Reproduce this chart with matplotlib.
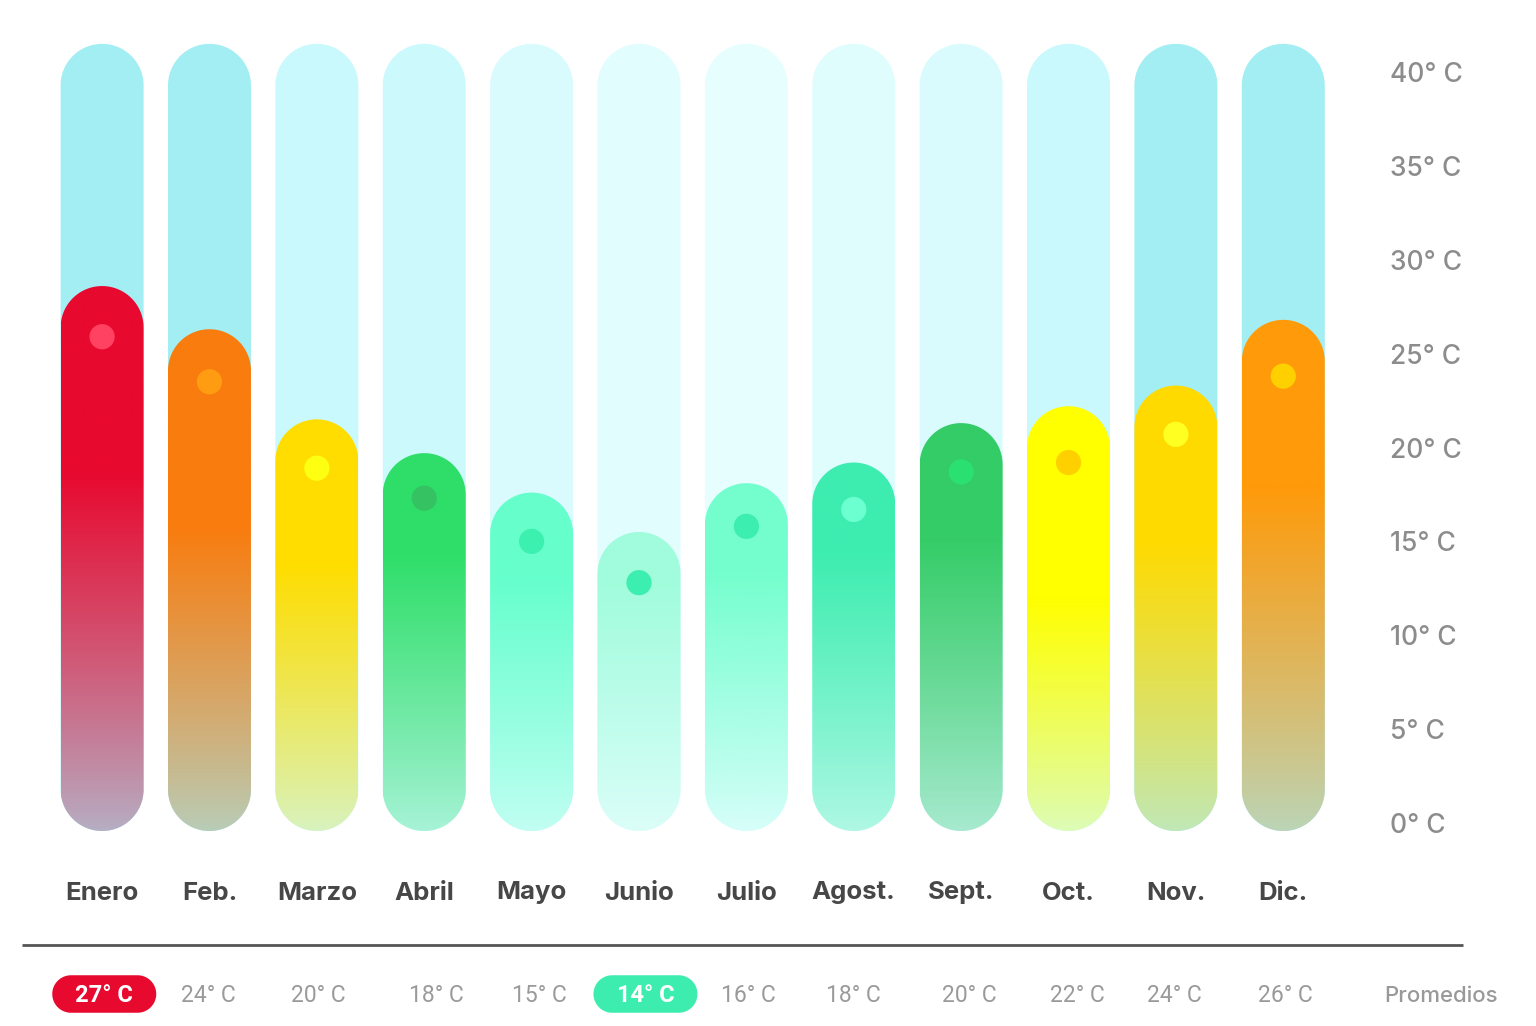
import numpy as np
import matplotlib
matplotlib.use("Agg")
import matplotlib.pyplot as plt
from matplotlib.path import Path
from matplotlib.patches import PathPatch
from matplotlib.colors import to_rgb

# ---------------- data ----------------
months = ["Enero", "Feb.", "Marzo", "Abril", "Mayo", "Junio",
          "Julio", "Agost.", "Sept.", "Oct.", "Nov.", "Dic."]
max_temp = [28.6, 26.3, 21.5, 19.7, 17.6, 15.5, 18.1, 19.2, 21.3, 22.2, 23.3, 26.8]
dot_temp = [25.9, 23.5, 18.9, 17.3, 15.0, 12.8, 15.8, 16.7, 18.7, 19.2, 20.7, 23.8]
avg_temp = [27, 24, 20, 18, 15, 14, 16, 18, 20, 22, 24, 26]
avg_labels = [f"{v}° C" for v in avg_temp]
scale_max = 41.5
y_ticks = [0, 5, 10, 15, 20, 25, 30, 35, 40]
y_tick_labels = [f"{t}° C" for t in y_ticks]
highlight_hot = 0      # Enero
highlight_cold = 5     # Junio

# ---------------- styles ----------------
bg_colors = ['#A3EEF3', '#A3EEF3', '#C9F9FC', '#CCF9FC', '#D9FBFD', '#E1FDFE',
             '#E6FEFE', '#E0FDFE', '#D9FBFD', '#C9F9FC', '#A3EEF3', '#A3EEF3']
top_colors = ['#E8092F', '#F97C0E', '#FFDD00', '#2EDE68', '#66FFCC', '#A0FCDC',
              '#74FECE', '#3DEDB0', '#33CC66', '#FFFF00', '#FFDA00', '#FF9A0A']
bottom_colors = ['#B6AFC4', '#B8CDB8', '#D8F3C0', '#A8F3D8', '#C2FEF3', '#DCFEF9',
                 '#D8FEFA', '#B0F8E4', '#A8EAD0', '#DDFCB8', '#C0E8B8', '#BBD5B8']
fade_start = [18.6, 15.8, 13.8, 14.5, 13.0, 13.0, 13.5, 14.5, 15.5, 12.0, 15.0, 17.9]
dot_colors = ['#FF4262', '#FF9C12', '#FFFF12', '#35C262', '#3CF0B0', '#3CEEB0',
              '#3CEEB0', '#6CFFD0', '#2AE070', '#FFD000', '#FFFF22', '#FFD000']
avg_offsets = [0.02, -0.01, 0.01, 0.11, 0.07, 0.06, 0.02, 0.0, 0.08, 0.08, -0.01, 0.02]

W, H = 1536, 1026
PX_X = 107.38   # pixels per month step
PX_Y = 18.775   # pixels per degree
X0_PX = 102.1   # pixel x of first bar centre
Y0_PX = 823.0   # pixel y (from top) of 0 degrees
BAR_W = 83.0
BAR_BOTTOM = (Y0_PX - 831.0) / PX_Y

fig = plt.figure(figsize=(W / 100, H / 100), dpi=100)
ax = fig.add_axes([0, 0, 1, 1])
ax.set_axis_off()
xlim = (-X0_PX / PX_X, (W - X0_PX) / PX_X)
ylim = ((Y0_PX - H) / PX_Y, Y0_PX / PX_Y)


def rrect(cx, cy, w_px, h_px, r_px, n=30):
    hw, hh = w_px / 2, h_px / 2
    r = min(r_px, hw, hh)
    pts = []
    for ccx, ccy, a0 in [(hw - r, hh - r, 0), (-(hw - r), hh - r, 90),
                         (-(hw - r), -(hh - r), 180), (hw - r, -(hh - r), 270)]:
        for a in np.linspace(np.radians(a0), np.radians(a0 + 90), n):
            pts.append((cx + (ccx + r * np.cos(a)) / PX_X,
                        cy + (ccy + r * np.sin(a)) / PX_Y))
    pts.append(pts[0])
    codes = [Path.MOVETO] + [Path.LINETO] * (len(pts) - 2) + [Path.CLOSEPOLY]
    return Path(pts, codes)


def bar_path(i, top):
    h_px = (top - BAR_BOTTOM) * PX_Y
    return rrect(i, (top + BAR_BOTTOM) / 2, BAR_W, h_px, BAR_W / 2)


for i in range(len(months)):
    # background capsule
    ax.add_patch(PathPatch(bar_path(i, scale_max), fc=bg_colors[i], ec='none', zorder=1))
    # coloured gradient capsule
    top = max_temp[i]
    clip = PathPatch(bar_path(i, top), fc='none', ec='none', zorder=2)
    ax.add_patch(clip)
    t = np.linspace(BAR_BOTTOM, top, 400)
    c_top = np.array(to_rgb(top_colors[i]))
    c_bot = np.array(to_rgb(bottom_colors[i]))
    f = np.clip((t - BAR_BOTTOM) / (fade_start[i] - BAR_BOTTOM), 0, 1)
    f = f ** 0.9
    img = c_bot[None, :] * (1 - f[:, None]) + c_top[None, :] * f[:, None]
    img = img[:, None, :]
    hw = BAR_W / 2 / PX_X
    im = ax.imshow(img, extent=[i - hw, i + hw, BAR_BOTTOM, top], origin='lower',
                   aspect='auto', interpolation='bilinear', zorder=2)
    im.set_clip_path(clip)

# dots
ax.scatter(range(len(months)), dot_temp, s=330, c=dot_colors, linewidths=0, zorder=3)

# month labels
for i, m in enumerate(months):
    ax.text(i, (Y0_PX - 893) / PX_Y, m, ha='center', va='center', fontsize=18.5,
            fontweight='bold', color='#474747', family='Inter')

# y scale labels
for t, lab in zip(y_ticks, y_tick_labels):
    ax.text((1390 - X0_PX) / PX_X, t - 3 / PX_Y, lab, ha='left', va='center', fontsize=19,
            color='#8C8C8C', family='Inter', fontweight='medium')

# separator line
ax.plot([(22 - X0_PX) / PX_X, (1463 - X0_PX) / PX_X],
        [(Y0_PX - 945) / PX_Y] * 2, color='#555555', lw=2, solid_capstyle='butt', zorder=2)

# averages row
y_avg = (Y0_PX - 994) / PX_Y
y_txt = y_avg - 2 / PX_Y
for i, lab in enumerate(avg_labels):
    x = i + avg_offsets[i]
    if i in (highlight_hot, highlight_cold):
        col = top_colors[0] if i == highlight_hot else '#3DEDB0'
        ax.add_patch(PathPatch(rrect(x, y_avg, 104, 37.5, 18.75), fc=col, ec='none', zorder=2))
        ax.text(x, y_txt, lab, ha='center', va='center', fontsize=17, fontweight='bold',
                color='white', family='Roboto', zorder=3)
    else:
        ax.text(x, y_txt, lab, ha='center', va='center', fontsize=16.5,
                color='#9A9A9A', family='Roboto')
ax.text((1441 - X0_PX) / PX_X, y_txt, "Promedios", ha='center', va='center',
        fontsize=16, color='#999999', family='Inter', fontweight='medium')

ax.set_xlim(*xlim)
ax.set_ylim(*ylim)
fig.savefig("out.png", dpi=100, facecolor='white')
